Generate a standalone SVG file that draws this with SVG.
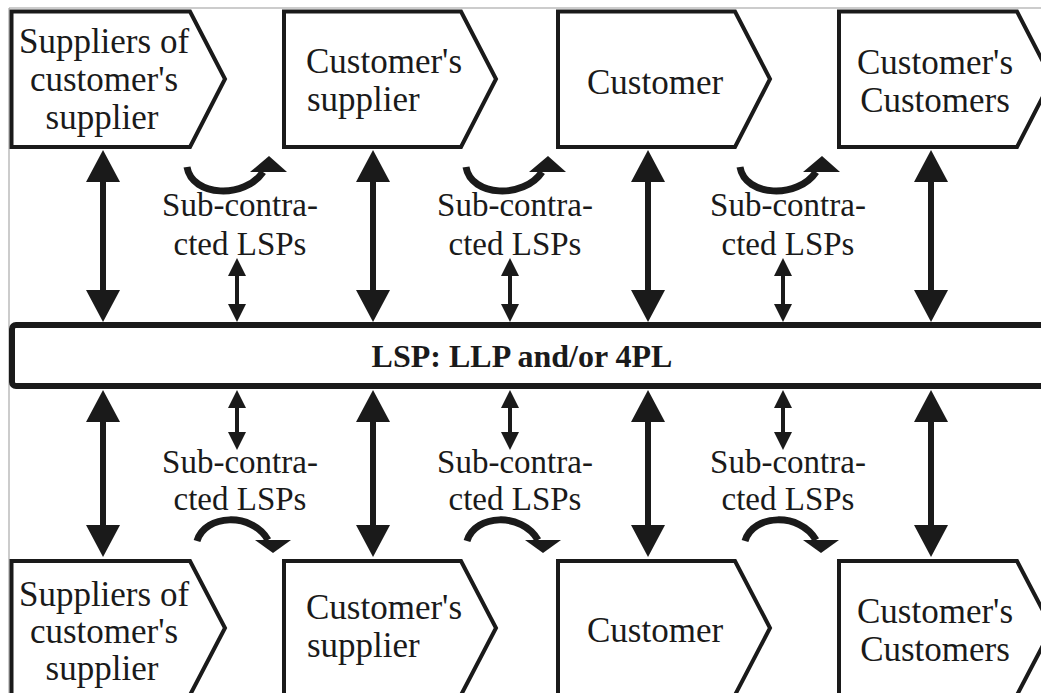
<svg xmlns="http://www.w3.org/2000/svg" width="1041" height="693" viewBox="0 0 1041 693">
<style>
.box{fill:#fff;stroke:#1a1a1a;stroke-width:4;stroke-linejoin:miter}
.t{font-family:"Liberation Serif","Times New Roman",serif;font-size:35px;fill:#1a1a1a}
.s{font-family:"Liberation Serif","Times New Roman",serif;font-size:33px;fill:#1a1a1a;text-anchor:middle}
.m{text-anchor:middle}
.shaft{stroke:#1a1a1a;stroke-width:6;fill:none}
.sshaft{stroke:#1a1a1a;stroke-width:4;fill:none}
.arc{stroke:#1a1a1a;stroke-width:7;fill:none}
.hd{fill:#1a1a1a}
</style>
<defs>
<g id="big">
<line class="shaft" x1="0" y1="25" x2="0" y2="147"/>
<polygon class="hd" points="0,0 -17,32 17,32"/>
<polygon class="hd" points="0,172 -17,140 17,140"/>
</g>
<g id="bigb">
<line class="shaft" x1="0" y1="25" x2="0" y2="142"/>
<polygon class="hd" points="0,0 -17,32 17,32"/>
<polygon class="hd" points="0,167 -17,135 17,135"/>
</g>
<g id="small">
<line class="sshaft" x1="0" y1="12" x2="0" y2="52"/>
<polygon class="hd" points="0,0 -9,18 9,18"/>
<polygon class="hd" points="0,64 -9,46 9,46"/>
</g>
<g id="small2">
<line class="sshaft" x1="0" y1="12" x2="0" y2="48"/>
<polygon class="hd" points="0,0 -9,18 9,18"/>
<polygon class="hd" points="0,60 -9,42 9,42"/>
</g>
<g id="curveUp">
<path class="arc" d="M187,167 C192,197 245,199 263,172"/>
<polygon class="hd" points="250,172 287,172 269,156"/>
</g>
<g id="curveDown">
<path class="arc" d="M197,541 C205,514 252,512 268,540"/>
<polygon class="hd" points="255,540 291,540 273,553"/>
</g>
</defs>

<g id="frame">
<line x1="9" y1="8" x2="9" y2="693" stroke="#999" stroke-width="1"/>
<line x1="9" y1="8" x2="1041" y2="8" stroke="#999" stroke-width="1"/>
</g>

<g id="lsp">
<rect x="12" y="325" width="1060" height="61" rx="4" fill="#fff" stroke="#1a1a1a" stroke-width="6"/>
<text x="522" y="367" class="t m" style="font-weight:bold;font-size:32px">LSP: LLP and/or 4PL</text>
</g>

<g id="top-suppliers-of-customers-supplier">
<path class="box" d="M11.5,11.5 H190 L225,79 L190,147 H11.5 Z"/>
<text class="t m" x="104" y="53">Suppliers of</text>
<text class="t m" x="104" y="91">customer's</text>
<text class="t m" x="102" y="129">supplier</text>
</g>
<g id="top-customers-supplier">
<path class="box" d="M284,11.5 H461 L496,79 L461,147 H284 Z"/>
<text class="t" x="306" y="73">Customer's</text>
<text class="t" x="307" y="111">supplier</text>
</g>
<g id="top-customer">
<path class="box" d="M558,11.5 H735 L770,79 L735,147 H558 Z"/>
<text class="t" x="587" y="94">Customer</text>
</g>
<g id="top-customers-customers">
<path class="box" d="M839,11.5 H1017 L1052,79 L1017,147 H839 Z"/>
<text class="t m" x="935" y="74">Customer's</text>
<text class="t m" x="935" y="112">Customers</text>
</g>

<g id="bottom-suppliers-of-customers-supplier">
<path class="box" d="M11.5,561 H190 L225,628 L190,695 H11.5 Z"/>
<text class="t m" x="104" y="606">Suppliers of</text>
<text class="t m" x="104" y="643">customer's</text>
<text class="t m" x="102" y="680">supplier</text>
</g>
<g id="bottom-customers-supplier">
<path class="box" d="M284,561 H461 L496,628 L461,695 H284 Z"/>
<text class="t" x="306" y="619">Customer's</text>
<text class="t" x="307" y="657">supplier</text>
</g>
<g id="bottom-customer">
<path class="box" d="M558,561 H735 L770,628 L735,695 H558 Z"/>
<text class="t" x="587" y="642">Customer</text>
</g>
<g id="bottom-customers-customers">
<path class="box" d="M839,561 H1017 L1052,628 L1017,695 H839 Z"/>
<text class="t m" x="935" y="623">Customer's</text>
<text class="t m" x="935" y="661">Customers</text>
</g>

<g id="sub-labels">
<text class="s" x="240" y="216">Sub-contra-</text>
<text class="s" x="240" y="255">cted LSPs</text>
<text class="s" x="515" y="216">Sub-contra-</text>
<text class="s" x="515" y="255">cted LSPs</text>
<text class="s" x="788" y="216">Sub-contra-</text>
<text class="s" x="788" y="255">cted LSPs</text>
<text class="s" x="240" y="473">Sub-contra-</text>
<text class="s" x="240" y="510">cted LSPs</text>
<text class="s" x="515" y="473">Sub-contra-</text>
<text class="s" x="515" y="510">cted LSPs</text>
<text class="s" x="788" y="473">Sub-contra-</text>
<text class="s" x="788" y="510">cted LSPs</text>
</g>

<g id="connectors">
<use href="#big" x="103" y="150"/>
<use href="#big" x="373" y="150"/>
<use href="#big" x="648" y="150"/>
<use href="#big" x="931" y="150"/>
<use href="#bigb" x="103" y="390"/>
<use href="#bigb" x="373" y="390"/>
<use href="#bigb" x="648" y="390"/>
<use href="#bigb" x="931" y="390"/>
<use href="#small" x="237" y="258"/>
<use href="#small" x="510" y="258"/>
<use href="#small" x="783" y="258"/>
<use href="#small2" x="237" y="390"/>
<use href="#small2" x="510" y="390"/>
<use href="#small2" x="783" y="390"/>
<use href="#curveUp" x="0" y="0"/>
<use href="#curveUp" x="279" y="0"/>
<use href="#curveUp" x="553" y="0"/>
<use href="#curveDown" x="0" y="0"/>
<use href="#curveDown" x="270" y="0"/>
<use href="#curveDown" x="548" y="0"/>
</g>
</svg>
